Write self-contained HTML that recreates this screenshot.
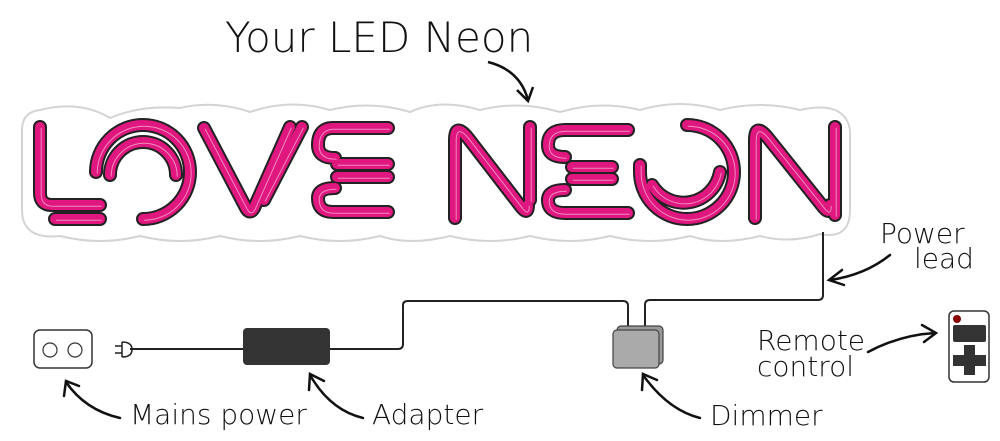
<!DOCTYPE html>
<html><head><meta charset="utf-8"><style>
body{margin:0;background:#fff;width:1000px;height:441px;overflow:hidden}
svg{display:block}
text{font-family:"DejaVu Sans","Liberation Sans",sans-serif;fill:#111;font-weight:300}
</style></head><body>
<svg width="1000" height="441" viewBox="0 0 1000 441">
<defs>
<path id="lt" d="M40 127 L40 193 Q40 205 52 205 L100 205 M55 219 L100 219
M96 172 A47 47 0 1 1 143 219 M110 175 A33 33 0 0 1 176 175
M204 128 L246 208 Q250 215 254 208 L290 127 M302 127 L264 200
M388 128 L333 128 Q318 128 318 145 Q318 158 335 158 M337 164 L388 164 M337 177 L388 177 M335 188 Q318 188 318 198 Q318 212 333 212 L388 212
M455 218 L455 140 Q455 122 468 138 L522 208 Q528 215 528 205 M530 127 L530 200
M628 130 L565 130 Q548 130 548 145 Q548 157 565 157 M572 167 L612 167 M572 179 L612 179 M565 190 Q548 190 548 200 Q548 213 565 213 L628 213
M687 125 A47 47 0 1 1 640 172 L640 165 M720 172 A37 37 0 0 1 652 185
M755 218 L755 140 Q755 122 768 138 L824 208 Q830 215 830 205 M835 127 L835 215"/>
</defs>
<path d="M40 110 Q80 100 110 118 Q140 105 180 108 Q215 100 250 112 Q290 98 330 110 Q370 100 410 112 Q440 98 480 110 Q520 100 560 112 Q600 100 640 110 Q680 98 720 110 Q760 100 800 110 Q845 100 850 130 L850 210 Q850 240 820 234 Q790 244 760 236 Q720 246 690 236 Q650 246 610 236 Q570 246 530 236 Q490 246 450 236 Q410 246 380 236 Q340 246 300 236 Q260 246 220 236 Q180 246 140 236 Q100 246 60 236 Q22 240 22 210 L22 130 Q22 112 40 110 Z" fill="#fff" stroke="#d4d4d4" stroke-width="2"/>
<g fill="none" stroke-linecap="round" stroke-linejoin="round">
<use href="#lt" stroke="#222" stroke-width="14"/>
<use href="#lt" stroke="#e0177f" stroke-width="10"/>
<use href="#lt" stroke="#fff" stroke-width="1" transform="translate(1.2,1.2)" opacity="0.5"/>
</g>
<text x="225" y="52" font-size="42">Your LED Neon</text>
<path d="M488 62 Q520 70 528 100" fill="none" stroke="#111" stroke-width="2.5"/>
<path d="M517 90 L528 101 L533 87" fill="none" stroke="#111" stroke-width="2.5"/>
<g fill="none" stroke="#222" stroke-width="2">
<path d="M130 349 L243 349 M330 349 L398 349 Q403 349 403 344 L403 305 Q403 301 408 301 L623 301 Q628 301 628 306 L628 328"/>
<path d="M645 328 L645 305 Q645 300 650 300 L818 300 Q823 300 823 295 L823 232"/>
</g>
<rect x="34" y="330" width="58" height="38" rx="6" fill="#fff" stroke="#333" stroke-width="1.5"/>
<circle cx="50" cy="350" r="7" fill="none" stroke="#333" stroke-width="1.2"/>
<circle cx="75" cy="350" r="7" fill="none" stroke="#333" stroke-width="1.2"/>
<path d="M122 342 L122 357 M122 342 Q132 342 132 349.5 Q132 357 122 357 M115 346 L122 346 M115 353 L122 353" fill="none" stroke="#222" stroke-width="1.5"/>
<rect x="243" y="328" width="87" height="37" rx="4" fill="#333"/>
<rect x="617" y="326" width="46" height="38" rx="4" fill="#999" stroke="#444" stroke-width="1.2"/>
<rect x="613" y="330" width="46" height="38" rx="4" fill="#aaa" stroke="#444" stroke-width="1.2"/>
<rect x="949" y="311" width="40" height="71" rx="5" fill="#fff" stroke="#333" stroke-width="1.5"/>
<circle cx="957" cy="319" r="4" fill="#8b0000"/>
<rect x="953" y="325" width="33" height="17" rx="2" fill="#333"/>
<path d="M964 345 h11 v10 h11 v11 h-11 v9 h-11 v-9 h-11 v-11 h11z" fill="#333"/>
<g font-size="28">
<text x="130" y="424">Mains power</text>
<text x="372" y="424">Adapter</text>
<text x="710" y="425">Dimmer</text>
<text x="880" y="243">Power</text>
<text x="914" y="268">lead</text>
<text x="757" y="350">Remote</text>
<text x="757" y="376">control</text>
</g>
<g fill="none" stroke="#111" stroke-width="2.5" stroke-linecap="round">
<path d="M120 418 Q85 410 66 382"/><path d="M64 396 L66 381 L79 386"/>
<path d="M363 418 Q330 410 310 375"/><path d="M309 390 L310 374 L324 381"/>
<path d="M700 418 Q668 410 643 375"/><path d="M642 390 L643 374 L657 380"/>
<path d="M890 255 Q865 275 830 280"/><path d="M842 270 L829 280 L844 285"/>
<path d="M868 352 Q900 335 935 333"/><path d="M922 325 L936 333 L924 342"/>
</g>
</svg>
</body></html>
